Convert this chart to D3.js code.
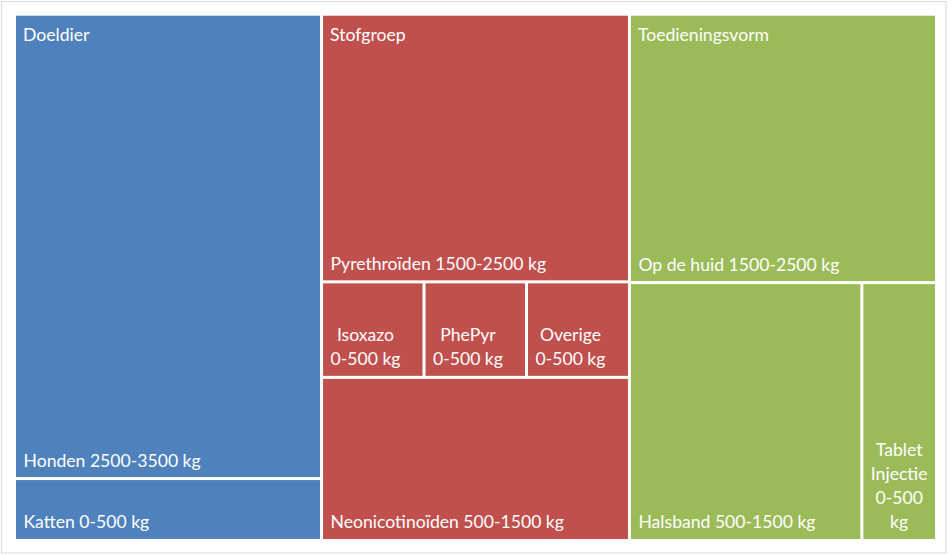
<!DOCTYPE html>
<html>
<head>
<meta charset="utf-8">
<script src="https://cdn.jsdelivr.net/npm/d3@7"></script>
<style>
  html, body { margin: 0; padding: 0; background: #ffffff; }
  svg { display: block; }
  text { font-family: "Lato", "Open Sans", sans-serif; fill: #ffffff; }
</style>
</head>
<body>
<svg id="chart" width="952" height="556"></svg>
<script>
// ---- data ----
const groupNames = ["Doeldier", "Stofgroep", "Toedieningsvorm"];
const groupColors = ["#4F81BD", "#C0504D", "#9BBB59"];

const doeldierNames  = ["Honden", "Katten"];
const doeldierRanges = ["2500-3500 kg", "0-500 kg"];
const doeldierValues = [3088, 412];
const doeldierRows   = [0, 1];

const stofNames  = ["Pyrethroïden", "Isoxazo", "PhePyr", "Overige", "Neonicotinoïden"];
const stofRanges = ["1500-2500 kg", "0-500 kg", "0-500 kg", "0-500 kg", "500-1500 kg"];
const stofValues = [1785, 212, 212, 213, 1088];
const stofRows   = [0, 1, 1, 1, 2];

const toedNames  = ["Op de huid", "Halsband", "Tablet Injectie"];
const toedRanges = ["1500-2500 kg", "500-1500 kg", "0-500 kg"];
const toedValues = [1785, 1298, 417];
const toedRows   = [0, 1, 1];

// ---- build hierarchy: root -> group -> row -> leaf ----
function buildGroup(name, names, ranges, values, rows) {
  const rowIds = Array.from(new Set(rows));
  return {
    name,
    children: rowIds.map(r => ({
      name: name + "-row" + r,
      children: names.map((n, i) => ({ name: n, range: ranges[i], value: values[i], row: rows[i] }))
                     .filter(d => d.row === r)
    }))
  };
}
const rootData = {
  name: "root",
  children: [
    buildGroup(groupNames[0], doeldierNames, doeldierRanges, doeldierValues, doeldierRows),
    buildGroup(groupNames[1], stofNames, stofRanges, stofValues, stofRows),
    buildGroup(groupNames[2], toedNames, toedRanges, toedValues, toedRows)
  ]
};

const W = 952, H = 556;
const plot = { x: 16, y: 15.7, w: 919, h: 523.3 };

const svg = d3.select("#chart");

// outer frame
svg.append("rect")
  .attr("x", 1.5).attr("y", 1.5).attr("width", 944.5).attr("height", 551.5)
  .attr("fill", "none").attr("stroke", "#d9d9d9").attr("stroke-width", 1);

const root = d3.hierarchy(rootData).sum(d => d.value || 0);

function tile(node, x0, y0, x1, y1) {
  if (node.depth === 1) d3.treemapSlice(node, x0, y0, x1, y1);
  else d3.treemapDice(node, x0, y0, x1, y1);
}

d3.treemap().size([plot.w, plot.h]).paddingInner(3).tile(tile)(root);

const g = svg.append("g").attr("transform", `translate(${plot.x},${plot.y})`);
const colorScale = d3.scaleOrdinal().domain(groupNames).range(groupColors);

const leaves = root.leaves();
const fontSize = 17.6;
const lineH = 24;

const leafG = g.selectAll("g.leaf").data(leaves).join("g").attr("class", "leaf");
leafG.append("rect")
  .attr("x", d => d.x0).attr("y", d => d.y0)
  .attr("width", d => d.x1 - d.x0).attr("height", d => d.y1 - d.y0)
  .attr("fill", d => colorScale(d.parent.parent.data.name));

// measuring helper
const meas = svg.append("text").attr("font-size", fontSize).attr("visibility", "hidden");
function textW(s) { meas.text(s); return meas.node().getComputedTextLength(); }

leafG.each(function(d) {
  const w = d.x1 - d.x0;
  const avail = w - 12;
  const words = (d.data.name + " " + d.data.range).split(" ");
  const lines = [];
  let cur = "";
  words.forEach(wd => {
    const test = cur ? cur + " " + wd : wd;
    if (cur && textW(test) > avail) { lines.push(cur); cur = wd; }
    else cur = test;
  });
  if (cur) lines.push(cur);
  const maxW = d3.max(lines, l => textW(l));
  const cx = d.x0 + 7.5 + maxW / 2;
  const lastBase = d.y1 - 10.5;
  const t = d3.select(this).append("text")
    .attr("font-size", fontSize)
    .attr("text-anchor", "middle");
  lines.forEach((l, i) => {
    t.append("tspan")
      .attr("x", cx)
      .attr("y", lastBase - (lines.length - 1 - i) * lineH)
      .text(l);
  });
});

// group labels at the top-left of each group
g.selectAll("text.group").data(root.children).join("text")
  .attr("class", "group")
  .attr("font-size", fontSize)
  .attr("x", d => d.x0 + 7)
  .attr("y", d => d.y0 + 25)
  .text(d => d.data.name);

meas.remove();
</script>
</body>
</html>
